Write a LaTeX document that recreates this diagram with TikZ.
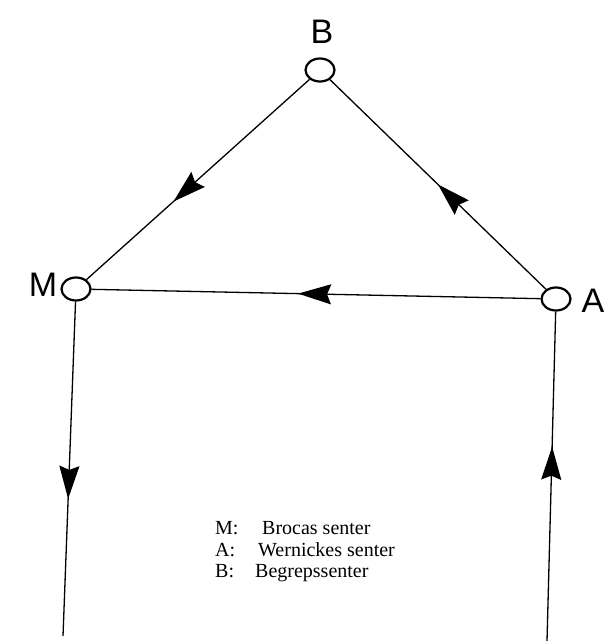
\documentclass[tikz,border=0pt]{standalone}
\usepackage{fontspec}
\setmainfont{Liberation Serif}
\newfontfamily\labfont{Liberation Sans}
\usetikzlibrary{shapes.geometric,arrows.meta,decorations.markings}
\tikzset{
  center/.style={ellipse, draw, line width=2.2pt, minimum width=29pt, minimum height=23pt, inner sep=0pt},
  letter/.style={font=\labfont\fontsize{34}{34}\selectfont, inner sep=0pt},
  conn/.style={line width=1.3pt, postaction={decorate},
    decoration={markings, mark=at position #1 with {\arrow{Stealth[length=33pt,width=20pt,inset=4pt]}}}},
  legend/.style={font=\fontsize{20}{20}\selectfont, inner sep=0pt, anchor=base west}
}
\begin{document}
\begin{tikzpicture}[x=1pt,y=-1pt]
\useasboundingbox[fill=white] (0,0) rectangle (606,644);
\node[center] (B) at (320,70) {};
\node[center] (M) at (76,289) {};
\node[center] (A) at (556,299) {};
\node[letter] (lB) at (322,32) {B};
\node[letter] (lM) at (43,285) {M};
\node[letter] (lA) at (593,301) {A};
\coordinate (Mend) at (63,636);
\coordinate (Aend) at (547,641);
\draw[conn=0.61] (B) -- (M);
\draw[conn=0.50] (A) -- (B);
\draw[conn=0.54] (A) -- (M);
\draw[conn=0.59] (M) -- (Mend);
\draw[conn=0.59] (Aend) -- (A);
\node[legend] (k1) at (215,534) {M:};
\node[legend] (k2) at (215,556) {A:};
\node[legend] (k3) at (215,577) {B:};
\node[legend] (v1) at (262,534) {Brocas senter};
\node[legend] (v2) at (258,556) {Wernickes senter};
\node[legend] (v3) at (255,577) {Begrepssenter};
\end{tikzpicture}
\end{document}
